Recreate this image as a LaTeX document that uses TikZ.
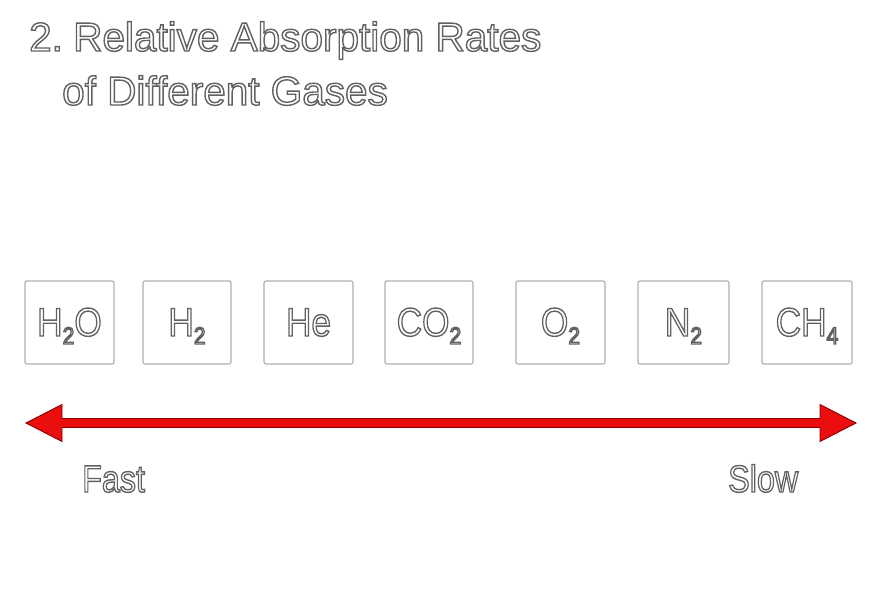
\documentclass[tikz,border=0pt]{standalone}
\usepackage{fontspec}
\setmainfont{Liberation Sans}
\usepackage{graphicx}
\usetikzlibrary{calc}
\definecolor{arrowred}{RGB}{234,14,14}
\definecolor{arrowdark}{RGB}{140,0,0}
\newcommand{\olt}[1]{\special{pdf:literal direct 2 Tr 1.4 w 0.38 0.38 0.38 RG 1 1 1 rg}#1\special{pdf:literal direct 0 Tr 0 0 0 RG 0 0 0 rg}}
\newcommand{\sbs}[1]{\raisebox{-8pt}{\fontsize{24}{24}\selectfont #1}}
\newcommand{\nar}[1]{\scalebox{0.88}[1]{#1}}
\begin{document}
\begin{tikzpicture}[x=1pt,y=-1pt,
  gasbox/.style={draw=gray!62, line width=1.2pt, rounded corners=2pt, fill=white, minimum height=83pt, inner sep=0pt},
  gaslabel/.style={anchor=base, inner sep=0pt, font=\fontsize{40}{40}\selectfont},
  titletext/.style={anchor=base west, inner sep=0pt, font=\fontsize{40.5}{40.5}\selectfont},
  scaletext/.style={anchor=base west, inner sep=0pt, font=\fontsize{38}{38}\selectfont},
  redarrow/.style={fill=arrowred, draw=arrowdark, line width=0.9pt, line join=miter}]
\useasboundingbox (0,0) rectangle (879,597);
\fill[white] (0,0) rectangle (879,597);

% title
\node[titletext] (tnum) at (29,51) {\olt{2.}};
\node[titletext] (t1) at (73,51) {\olt{Relative Absorption Rates}};
\node[titletext] (t2) at (62,105) {\olt{of Different Gases}};

% boxes
\node[gasbox, minimum width=89pt] (b1) at (69.5,322.5) {};
\node[gasbox, minimum width=88pt] (b2) at (187,322.5) {};
\node[gasbox, minimum width=89pt] (b3) at (308.5,322.5) {};
\node[gasbox, minimum width=88pt] (b4) at (429,322.5) {};
\node[gasbox, minimum width=89pt] (b5) at (560.5,322.5) {};
\node[gasbox, minimum width=91pt] (b6) at (683.5,322.5) {};
\node[gasbox, minimum width=90pt] (b7) at (807,322.5) {};

\node[gaslabel] (l1) at (69.5,336) {\nar{\olt{H\sbs{2}O}}};
\node[gaslabel] (l2) at (187,336) {\nar{\olt{H\sbs{2}}}};
\node[gaslabel] (l3) at (308.5,336) {\nar{\olt{He}}};
\node[gaslabel] (l4) at (429,336) {\nar{\olt{CO\sbs{2}}}};
\node[gaslabel] (l5) at (560.5,336) {\nar{\olt{O\sbs{2}}}};
\node[gaslabel] (l6) at (683.5,336) {\nar{\olt{N\sbs{2}}}};
\node[gaslabel] (l7) at (807,336) {\nar{\olt{CH\sbs{4}}}};

% double arrow
\coordinate (L) at (26,423);
\coordinate (R) at (856,423);
\draw[redarrow] (L) -- ($(L)+(36,-18.5)$) -- ($(L)+(36,-4.5)$) -- ($(R)+(-36,-4.5)$)
  -- ($(R)+(-36,-18.5)$) -- (R) -- ($(R)+(-36,18.5)$) -- ($(R)+(-36,4.5)$)
  -- ($(L)+(36,4.5)$) -- ($(L)+(36,18.5)$) -- cycle;

\node[scaletext] (fast) at (82,492) {\scalebox{0.85}[1]{\olt{Fast}}};
\node[scaletext] (slow) at (728,492) {\scalebox{0.85}[1]{\olt{Slow}}};
\end{tikzpicture}
\end{document}
